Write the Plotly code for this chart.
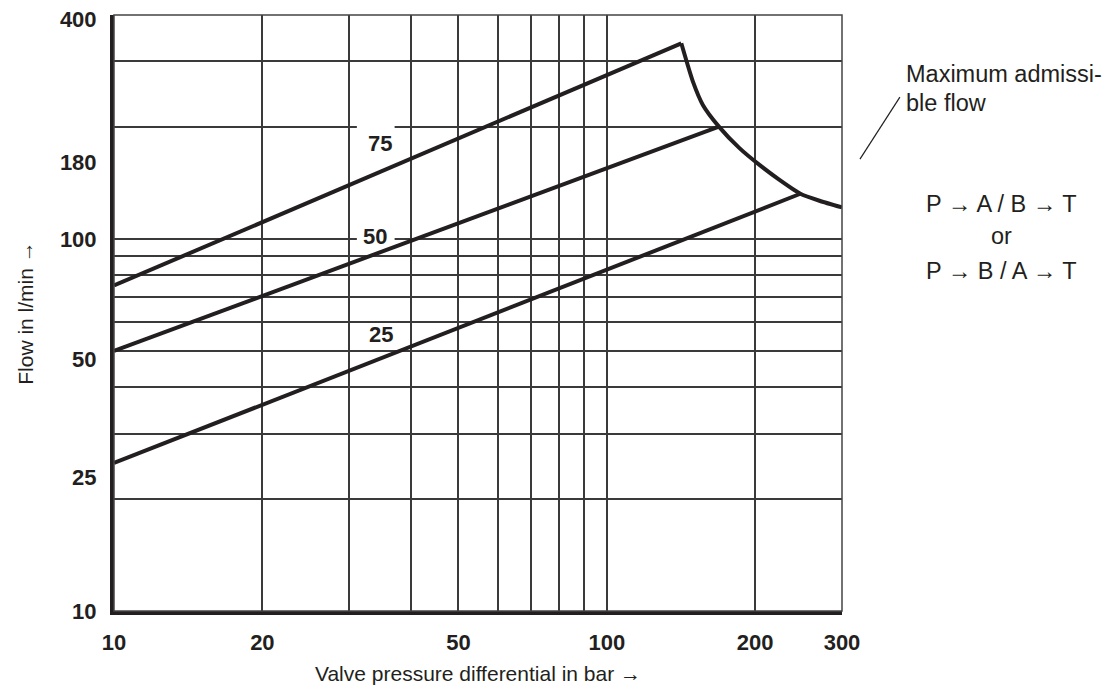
import plotly.graph_objects as go
import math

# ---- data ----
# nominal-flow characteristic lines (valve pressure differential in bar, flow in l/min)
line75_x = [10, 141.6]
line75_y = [75, 335.7]
line50_x = [10, 168.8]
line50_y = [50, 200.5]
line25_x = [10, 247.0]
line25_y = [25, 132.3]

# maximum admissible flow curve
limit_x = [141.6, 149.5, 156.6, 168.8, 185.8, 204.0, 224.0, 247.0, 270.0, 300.0]
limit_y = [335.7, 264.8, 229.3, 200.5, 175.5, 158.2, 144.2, 132.3, 126.7, 121.6]

# axes
x_grid = [10, 20, 30, 40, 50, 60, 70, 80, 90, 100, 200, 300]
x_ticktext = ["10", "20", "", "", "50", "", "", "", "", "100", "200", "300"]
y_grid = [20, 30, 40, 50, 60, 70, 80, 90, 100, 200, 300]
y_tickvals = [10, 22.9, 47.4, 100, 161.2, 390]   # label positions as printed
y_ticktext = ["10", "25", "50", "100", "180", "400"]

# curve labels
curve_labels = ["75", "50", "25"]
curve_label_x = [34.7, 33.9, 34.8]
curve_label_y = [181.0, 101.6, 55.4]

INK = "#231f20"
GRID = "#3a3a3a"
NUM_FONT = dict(family="Liberation Sans Narrow, Arial Narrow, Liberation Sans, Arial, sans-serif",
                size=22, color=INK, weight="bold")
TXT_FONT = "Liberation Sans, Arial, Helvetica, sans-serif"
NOTE_SIZE = 23.5

fig = go.Figure()

# white gaps in the 200 and 100 grid lines behind the "75" / "50" labels
gap_x = [31.1, 37.1]
for gy in (200, 100):
    fig.add_trace(go.Scatter(x=gap_x, y=[gy, gy], mode="lines",
                             line=dict(color="white", width=4),
                             hoverinfo="skip", showlegend=False))

for xs, ys in ((line75_x, line75_y), (line50_x, line50_y), (line25_x, line25_y)):
    fig.add_trace(go.Scatter(x=xs, y=ys, mode="lines",
                             line=dict(color=INK, width=4),
                             showlegend=False))

fig.add_trace(go.Scatter(x=limit_x, y=limit_y, mode="lines",
                         line=dict(color=INK, width=4, shape="spline", smoothing=0.6),
                         showlegend=False))

for t, lx, ly in zip(curve_labels, curve_label_x, curve_label_y):
    fig.add_annotation(x=math.log10(lx), y=math.log10(ly), xref="x", yref="y",
                       text=t, showarrow=False, font=NUM_FONT,
                       xanchor="center", yanchor="middle")

# right-hand notes
fig.add_shape(type="line", xref="paper", yref="paper",
              x0=1.0247, y0=0.7583, x1=1.0795, y1=0.8621,
              line=dict(color=INK, width=1.2))
fig.add_annotation(xref="paper", yref="paper", x=1.0855, y=0.9012,
                   text="Maximum admissi-", showarrow=False, xanchor="left", yanchor="middle",
                   font=dict(family=TXT_FONT, size=NOTE_SIZE, color=INK))
fig.add_annotation(xref="paper", yref="paper", x=1.0855, y=0.8526,
                   text="ble flow", showarrow=False, xanchor="left", yanchor="middle",
                   font=dict(family=TXT_FONT, size=NOTE_SIZE, color=INK))
for txt, yy in (("P → A / B → T", 0.6826), ("or", 0.6290), ("P → B / A → T", 0.5704)):
    fig.add_annotation(xref="paper", yref="paper", x=1.219, y=yy, text=txt,
                       showarrow=False, xanchor="center", yanchor="middle",
                       font=dict(family=TXT_FONT, size=NOTE_SIZE, color=INK))

# thin frame (top/right)
fig.add_shape(type="rect", xref="paper", yref="paper", x0=0, y0=0, x1=1, y1=1,
              line=dict(color="#444444", width=1.5), layer="above")

# figure is 8px smaller than the window to allow for the page's default body margin
fig.update_layout(
    width=1110, height=678,
    margin=dict(l=106, r=275.5, t=7, b=75, autoexpand=False),
    paper_bgcolor="white", plot_bgcolor="white",
    showlegend=False,
    xaxis=dict(type="log", range=[1, math.log10(300)],
               tickmode="array", tickvals=x_grid, ticktext=x_ticktext,
               showgrid=True, gridcolor=GRID, gridwidth=1.6,
               showline=True, linecolor=INK, linewidth=4,
               ticks="outside", ticklen=9, tickcolor="rgba(0,0,0,0)",
               tickfont=NUM_FONT, zeroline=False, ticklabeloverflow="allow",
               title=dict(text="Valve pressure differential in bar →",
                          font=dict(family=TXT_FONT, size=21, color=INK), standoff=13)),
    yaxis=dict(type="log", range=[1, math.log10(400)],
               tickmode="array", tickvals=y_tickvals, ticktext=y_ticktext,
               showgrid=False,
               minor=dict(tickmode="array", tickvals=y_grid, showgrid=True,
                          gridcolor=GRID, gridwidth=1.6, ticks=""),
               showline=True, linecolor=INK, linewidth=4,
               ticks="outside", ticklen=9, tickcolor="rgba(0,0,0,0)",
               tickfont=NUM_FONT, zeroline=False, ticklabeloverflow="allow",
               title=dict(text="Flow in l/min →",
                          font=dict(family=TXT_FONT, size=21, color=INK), standoff=22)),
)

fig.write_html("out.html")
